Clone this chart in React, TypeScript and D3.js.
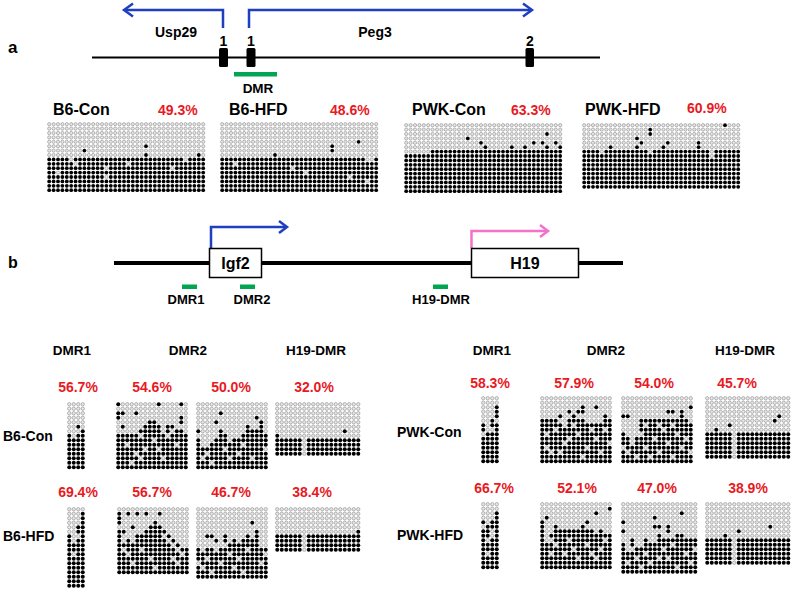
import React from "react";
import * as d3 from "d3";

// ---------- DATA ----------
// Panel a (Peg3 DMR) – per-column methylated clone counts from the bottom
const aPercents = ["49.3%", "48.6%", "63.3%", "60.9%"];
const aLabels = ["B6-Con", "B6-HFD", "PWK-Con", "PWK-HFD"];
const aB6ConHeights = Array.from({ length: 36 }, () => 8);
const aB6ConExtra = [[8, 9], [22, 10], [22, 8], [34, 8]];
const aB6ConHoles = [[2, 4], [6, 6], [13, 5], [13, 3], [18, 6], [28, 5], [5, 7], [31, 7]];
const aB6HfdHeights = [8, 8, 8, 8, 8, 8, 8, 8, 8, 8, 8, 8, 8, 8, 8, 8, 8, 8, 8, 8, 8, 8, 8, 8, 8, 8, 8, 8, 8, 8, 8, 8, 8, 7, 7, 8];
const aB6HfdExtra = [[12, 8], [25, 10], [25, 9], [31, 11]];
const aB6HfdHoles = [[3, 6], [16, 5], [19, 4], [29, 3], [33, 2]];
const aPwkConHeights = [9, 9, 9, 9, 9, 9, 10, 10, 10, 10, 10, 10, 10, 10, 10, 10, 10, 10, 10, 10, 10, 10, 10, 10, 10, 10, 10, 10, 10, 10, 10, 10, 10, 10, 10, 10];
const aPwkConExtra = [[14, 12], [17, 11], [18, 10], [24, 10], [27, 10], [29, 11], [31, 11], [32, 13], [32, 10], [34, 11], [35, 10]];
const aPwkConHoles: number[][] = [];
const aPwkHfdHeights = Array.from({ length: 36 }, () => 9);
const aPwkHfdExtra = [[32, 14], [15, 13], [15, 12], [12, 11], [13, 10], [12, 9], [6, 9], [18, 9], [19, 10], [26, 10], [26, 9]];
const aPwkHfdHoles = [[4, 8], [15, 8], [29, 8], [29, 7]];

// Panel b (Igf2 DMR1, DMR2 x2, H19-DMR)
const bHeaders = ["DMR1", "DMR2", "H19-DMR"];
const bRowLabels = ["B6-Con", "B6-HFD", "PWK-Con", "PWK-HFD"];
const bPercents = [
  ["56.7%", "54.6%", "50.0%", "32.0%"],
  ["69.4%", "56.7%", "46.7%", "38.4%"],
  ["58.3%", "57.9%", "54.0%", "45.7%"],
  ["66.7%", "52.1%", "47.0%", "38.9%"],
];
const h19Four = [5, 4, 4, 4, 4, 4, 0, 4, 4, 4, 4, 4, 4, 4, 4, 4, 4, 4, 4];
const h19FourB = [4, 4, 4, 4, 4, 4, 0, 4, 4, 4, 4, 4, 4, 4, 4, 4, 4, 4, 5];
const h19Six = [6, 6, 6, 6, 6, 6, 0, 6, 6, 6, 6, 6, 6, 6, 6, 6, 6, 6, 6];

const bB6ConDmr1 = { heights: [8, 8, 8, 9], extra: [[2, 9]], holes: [[1, 7]], rows: 15 };
const bB6ConDmr2a = {
  heights: [8, 10, 8, 8, 8, 9, 10, 11, 11, 10, 8, 10, 10, 9, 12, 8],
  extra: [[0, 14], [0, 12], [0, 11], [4, 12], [9, 14], [14, 14], [1, 12]],
  holes: [[1, 8], [2, 5], [4, 3], [5, 2], [8, 6], [9, 4], [11, 7], [13, 5], [14, 9], [3, 1], [6, 4], [10, 2], [5, 7], [12, 8]],
  rows: 15,
};
const bB6ConDmr2b = {
  heights: [7, 5, 5, 6, 7, 9, 8, 6, 7, 7, 8, 10, 9, 9, 11, 8],
  extra: [[0, 8], [5, 12], [4, 10], [13, 11]],
  holes: [[1, 2], [2, 3], [3, 1], [6, 4], [7, 2], [9, 3], [10, 5], [12, 2], [15, 4]],
  rows: 15,
};
const bB6ConH19 = { heights: h19Four, extra: [[15, 5]], holes: [], rows: 12 };

const bB6HfdDmr1 = { heights: [12, 10, 14, 17], extra: [], holes: [[2, 11], [1, 7]], rows: 18 };
const bB6HfdDmr2a = {
  heights: [10, 7, 8, 7, 9, 9, 10, 11, 11, 11, 10, 9, 8, 7, 6, 6],
  extra: [[0, 13], [0, 12], [0, 11], [1, 9], [2, 13], [3, 10], [4, 13], [6, 13], [8, 11], [9, 13]],
  holes: [[10, 8], [11, 7], [12, 6], [13, 5], [14, 4], [12, 3], [13, 2], [2, 4], [3, 2], [5, 5], [7, 3], [1, 5], [8, 1]],
  rows: 15,
};
const bB6HfdDmr2b = {
  heights: [7, 6, 7, 7, 6, 7, 10, 8, 9, 8, 9, 10, 9, 11, 7, 7],
  extra: [[2, 9], [3, 9], [4, 8], [12, 12]],
  holes: [[1, 2], [2, 4], [3, 1], [5, 3], [7, 5], [8, 2], [9, 4], [10, 1], [11, 6], [14, 3], [15, 5], [6, 7], [0, 3]],
  rows: 16,
};
const bB6HfdH19 = { heights: h19FourB, extra: [], holes: [], rows: 10 };

const bPwkConDmr1 = { heights: [9, 7, 10, 13], extra: [], holes: [[0, 6], [2, 7], [3, 9]], rows: 15 };
const bPwkConDmr2a = {
  heights: [10, 10, 10, 10, 9, 9, 10, 11, 10, 10, 9, 9, 9, 9, 11, 10],
  extra: [[12, 12], [9, 12], [6, 11], [8, 11], [9, 11], [4, 10]],
  holes: [[1, 6], [1, 3], [3, 7], [5, 4], [5, 8], [8, 6], [10, 3], [11, 7], [12, 5], [13, 2], [14, 7], [15, 4], [2, 2], [6, 5], [9, 1], [7, 8], [4, 2]],
  rows: 15,
};
const bPwkConDmr2b = {
  heights: [7, 6, 5, 6, 10, 10, 10, 10, 10, 10, 10, 10, 10, 11, 10, 9],
  extra: [[0, 10], [1, 10], [10, 11], [11, 11], [13, 11], [15, 12]],
  holes: [[0, 3], [1, 2], [2, 4], [3, 1], [4, 6], [5, 3], [6, 1], [7, 5], [8, 2], [9, 7], [10, 4], [11, 1], [12, 6], [13, 3], [14, 5], [15, 2], [5, 8], [8, 8], [11, 8]],
  rows: 15,
};
const bPwkConH19 = { heights: h19Six, extra: [[2, 6], [5, 7], [15, 8], [16, 9]], holes: [], rows: 14 };

const bPwkHfdDmr1 = { heights: [11, 10, 11, 13], extra: [], holes: [[1, 6], [2, 8], [2, 7], [1, 3], [0, 9]], rows: 15 };
const bPwkHfdDmr2a = {
  heights: [11, 6, 8, 10, 9, 9, 9, 9, 9, 10, 9, 9, 8, 9, 8, 8],
  extra: [[1, 11], [10, 10], [12, 12], [15, 13]],
  holes: [[3, 5], [5, 3], [6, 6], [8, 2], [10, 5], [11, 3], [13, 4], [14, 6], [7, 4], [12, 2], [2, 3], [2, 6]],
  rows: 15,
};
const bPwkHfdDmr2b = {
  heights: [7, 5, 8, 6, 7, 8, 7, 7, 9, 8, 8, 8, 9, 9, 8, 8, 8],
  extra: [[0, 11], [0, 9], [7, 12], [7, 10], [8, 10], [10, 10], [10, 9], [13, 13]],
  holes: [[1, 2], [2, 5], [3, 3], [4, 1], [5, 4], [6, 2], [9, 5], [10, 3], [11, 6], [12, 1], [14, 4], [15, 2], [16, 5], [4, 6], [8, 3]],
  rows: 16,
};
const bPwkHfdH19 = { heights: h19Six, extra: [[4, 6], [7, 7], [14, 8]], holes: [], rows: 14 };

// ---------- LAYOUT ----------
const FONT = "'Liberation Sans', Arial, Helvetica, sans-serif";
const RED = "#e8191f";
const BLUE = "#1f3fbf";
const PINK = "#f472c8";
const GREEN = "#00a651";

type Grid = { heights: number[]; extra: number[][]; holes: number[][]; rows: number };

function DotGrid({ grid, x0, y0, step, r }: { grid: Grid; x0: number; y0: number; step: number; r: number }) {
  const cols = grid.heights.length;
  const x = d3.scaleLinear().domain([0, cols]).range([x0, x0 + cols * step]);
  const y = d3.scaleLinear().domain([0, grid.rows]).range([y0 + grid.rows * step, y0]);
  const holeSet = new Set(grid.holes.map((h) => h[0] + "_" + h[1]));
  const extraSet = new Set(grid.extra.map((h) => h[0] + "_" + h[1]));
  const dots: React.ReactNode[] = [];
  for (let c = 0; c < cols; c++) {
    for (let rr = 0; rr < grid.rows; rr++) {
      const key = c + "_" + rr;
      const meth = (rr < grid.heights[c] && !holeSet.has(key)) || extraSet.has(key);
      dots.push(
        meth ? (
          <circle key={key} cx={x(c + 0.5)} cy={y(rr + 0.5)} r={r} fill="#000" />
        ) : (
          <circle key={key} cx={x(c + 0.5)} cy={y(rr + 0.5)} r={r * 0.85} fill="#e6e6e6" stroke="#8c8c8c" strokeWidth={0.6} />
        )
      );
    }
  }
  return <g>{dots}</g>;
}

const aGrids: Grid[] = [
  { heights: aB6ConHeights, extra: aB6ConExtra, holes: aB6ConHoles, rows: 16 },
  { heights: aB6HfdHeights, extra: aB6HfdExtra, holes: aB6HfdHoles, rows: 16 },
  { heights: aPwkConHeights, extra: aPwkConExtra, holes: aPwkConHoles, rows: 16 },
  { heights: aPwkHfdHeights, extra: aPwkHfdExtra, holes: aPwkHfdHoles, rows: 15 },
];
const aPos = [
  { gx: 47, gy: 122, lx: 53, px: 158, pb: 115 },
  { gx: 220, gy: 122, lx: 229, px: 330, pb: 115 },
  { gx: 404, gy: 123, lx: 412, px: 511, pb: 115 },
  { gx: 582, gy: 123, lx: 585, px: 687, pb: 113 },
];

const bGrids: Grid[][] = [
  [bB6ConDmr1, bB6ConDmr2a, bB6ConDmr2b, bB6ConH19],
  [bB6HfdDmr1, bB6HfdDmr2a, bB6HfdDmr2b, bB6HfdH19],
  [bPwkConDmr1, bPwkConDmr2a, bPwkConDmr2b, bPwkConH19],
  [bPwkHfdDmr1, bPwkHfdDmr2a, bPwkHfdDmr2b, bPwkHfdH19],
];
const bGridX = [
  [67, 116, 196, 275],
  [67, 117, 196, 275],
  [481, 540, 621, 705],
  [481, 540, 621, 705],
];
const bGridY = [402, 507, 396, 502];
const bPctX = [
  [78, 152, 231, 314],
  [78, 152, 231, 312],
  [490, 574, 654, 737],
  [494, 577, 657, 748],
];
const bPctY = [392, 497, 388, 493];
const bLabelPos = [
  { x: 3, y: 441 },
  { x: 3, y: 541 },
  { x: 397, y: 437 },
  { x: 397, y: 540 },
];
const bHeaderX = [
  [72, 188, 316],
  [492, 606, 745],
];

export default function App() {
  const bold = { fontFamily: FONT, fontWeight: 700 } as const;
  return (
    <svg width={797} height={594} style={{ position: "absolute", left: 0, top: 0, background: "#fff" }}>
      {/* ---------- Panel a diagram ---------- */}
      <text x={8} y={53} fontSize={17} {...bold}>a</text>
      <path d="M223,28 V10 H125" fill="none" stroke={BLUE} strokeWidth={2.5} />
      <path d="M133,3.5 L124,10 L133,16.5" fill="none" stroke={BLUE} strokeWidth={2.5} />
      <path d="M249,28 V10 H531" fill="none" stroke={BLUE} strokeWidth={2.5} />
      <path d="M523,3.5 L532,10 L523,16.5" fill="none" stroke={BLUE} strokeWidth={2.5} />
      <text x={176} y={37} fontSize={14} textAnchor="middle" {...bold}>Usp29</text>
      <text x={375} y={37} fontSize={14} textAnchor="middle" {...bold}>Peg3</text>
      <line x1={92} x2={600} y1={57.5} y2={57.5} stroke="#000" strokeWidth={2} />
      <rect x={219} y={48} width={9} height={19} rx={1.5} fill="#000" />
      <rect x={246.5} y={48} width={9} height={19} rx={1.5} fill="#000" />
      <rect x={525.5} y={48} width={8.5} height={19} rx={1.5} fill="#000" />
      <text x={223.5} y={46} fontSize={14} textAnchor="middle" {...bold}>1</text>
      <text x={251} y={46} fontSize={14} textAnchor="middle" {...bold}>1</text>
      <text x={530} y={46} fontSize={14} textAnchor="middle" {...bold}>2</text>
      <rect x={234} y={72} width={43} height={4.5} fill={GREEN} />
      <text x={258} y={93} fontSize={13.5} textAnchor="middle" {...bold}>DMR</text>

      {aGrids.map((g, i) => (
        <g key={"a" + i}>
          <text x={aPos[i].lx} y={115} fontSize={16} {...bold}>{aLabels[i]}</text>
          <text x={aPos[i].px} y={aPos[i].pb} fontSize={14} fill={RED} {...bold}>{aPercents[i]}</text>
          <DotGrid grid={g} x0={aPos[i].gx} y0={aPos[i].gy} step={4.4} r={1.9} />
        </g>
      ))}

      {/* ---------- Panel b diagram ---------- */}
      <text x={8} y={268} fontSize={16} {...bold}>b</text>
      <line x1={114} x2={623} y1={263} y2={263} stroke="#000" strokeWidth={4} />
      <path d="M211,248 V227 H286" fill="none" stroke={BLUE} strokeWidth={2.5} />
      <path d="M279,221 L287,227 L279,233" fill="none" stroke={BLUE} strokeWidth={2.5} />
      <path d="M471.5,248 V231 H547" fill="none" stroke={PINK} strokeWidth={2.5} />
      <path d="M540,225 L548,231 L540,237" fill="none" stroke={PINK} strokeWidth={2.5} />
      <rect x={209.5} y={248.5} width={52} height={29} fill="#fff" stroke="#000" strokeWidth={1.5} />
      <rect x={471.5} y={248.5} width={107} height={29} fill="#fff" stroke="#000" strokeWidth={1.5} />
      <text x={235.5} y={269} fontSize={16} textAnchor="middle" {...bold}>Igf2</text>
      <text x={525} y={269} fontSize={16} textAnchor="middle" {...bold}>H19</text>
      <rect x={182} y={284.5} width={15} height={4.5} fill={GREEN} />
      <rect x={240} y={284.5} width={15} height={4.5} fill={GREEN} />
      <rect x={433} y={284.5} width={15} height={4.5} fill={GREEN} />
      <text x={186} y={304} fontSize={13} textAnchor="middle" {...bold}>DMR1</text>
      <text x={252} y={304} fontSize={13} textAnchor="middle" {...bold}>DMR2</text>
      <text x={441} y={304} fontSize={13} textAnchor="middle" {...bold}>H19-DMR</text>

      {bHeaderX.map((xs, s) =>
        xs.map((hx, j) => (
          <text key={"h" + s + j} x={hx} y={355} fontSize={13.5} textAnchor="middle" {...bold}>
            {bHeaders[j]}
          </text>
        ))
      )}

      {bGrids.map((row, i) => (
        <g key={"b" + i}>
          <text x={bLabelPos[i].x} y={bLabelPos[i].y} fontSize={14} {...bold}>{bRowLabels[i]}</text>
          {row.map((g, j) => (
            <g key={j}>
              <text x={bPctX[i][j]} y={bPctY[i]} fontSize={14} fill={RED} textAnchor="middle" {...bold}>
                {bPercents[i][j]}
              </text>
              <DotGrid grid={g} x0={bGridX[i][j]} y0={bGridY[i]} step={4.5} r={2} />
            </g>
          ))}
        </g>
      ))}
    </svg>
  );
}
